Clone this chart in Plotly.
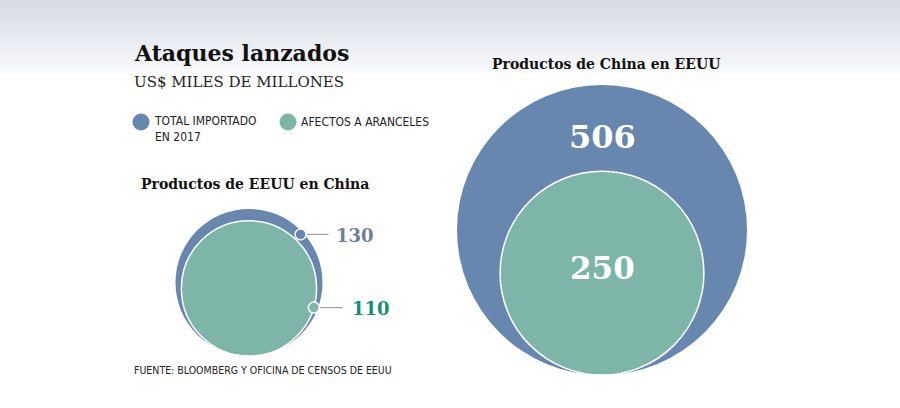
import numpy as np
import plotly.graph_objects as go

# ---------------- data ----------------
title = "Ataques lanzados"
subtitle = "US$ MILES DE MILLONES"
legend_labels = ["TOTAL IMPORTADO<br>EN 2017", "AFECTOS A ARANCELES"]
groups = ["Productos de EEUU en China", "Productos de China en EEUU"]
total_2017 = [130, 506]
afectos = [110, 250]
source = "FUENTE: BLOOMBERG Y OFICINA DE CENSOS DE EEUU"

# ---------------- style ----------------
BLUE = "#6787ae"
GREEN = "#7db5a8"
NUM_BLUE = "#6f8199"
NUM_GREEN = "#168f76"
SERIF = "DejaVu Serif, Liberation Serif, serif"
NARROW = "Liberation Sans Narrow, DejaVu Sans Condensed, Roboto Condensed, Arial Narrow, Roboto, sans-serif"

W, H = 900, 408
MAX_R = 145.0                       # radius (px) of the largest bubble
vmax = max(total_2017)
sizeref = 2.0 * vmax / (2 * MAX_R) ** 2


def radius(v):
    return MAX_R * np.sqrt(v / vmax)


# layout positions of each group (bubble centre x, common bottom y)
cx = [249, 602]
base = [356, 375]

outer_r = [radius(v) for v in total_2017]
inner_r = [radius(v) for v in afectos]
outer_cy = [b - r for b, r in zip(base, outer_r)]
inner_cy = [b - r for b, r in zip(base, inner_r)]

fig = go.Figure()

# background gradient band at top
n = 36
top_col = np.array([214, 220, 229])
bot_col = np.array([248, 249, 251])
for i in range(n):
    t = i / (n - 1)
    c = (top_col * (1 - t) + bot_col * t).astype(int)
    fig.add_shape(type="rect", xref="x", yref="y", x0=0, x1=W,
                  y0=i * 72 / n, y1=(i + 1) * 72 / n + 0.5,
                  fillcolor=f"rgb({c[0]},{c[1]},{c[2]})", line_width=0, layer="below")

# outer bubbles (total imported)
fig.add_trace(go.Scatter(
    x=cx, y=outer_cy, mode="markers",
    marker=dict(size=total_2017, sizemode="area", sizeref=sizeref, color=BLUE,
                line=dict(width=0), opacity=1),
    hoverinfo="skip", showlegend=False))

# inner bubbles (affected by tariffs)
fig.add_trace(go.Scatter(
    x=cx, y=inner_cy, mode="markers",
    marker=dict(size=afectos, sizemode="area", sizeref=sizeref, color=GREEN,
                line=dict(width=1.5, color="white"), opacity=1),
    hoverinfo="skip", showlegend=False))

# callouts for the small group
ang_o = np.deg2rad(43)
ang_i = np.deg2rad(-16.5)
dot_o = (cx[0] + (outer_r[0] - 3) * np.cos(ang_o), outer_cy[0] - (outer_r[0] - 3) * np.sin(ang_o))
dot_i = (cx[0] + inner_r[0] * np.cos(ang_i), inner_cy[0] - inner_r[0] * np.sin(ang_i))

fig.add_trace(go.Scatter(x=[dot_o[0], dot_o[0] + 28], y=[dot_o[1], dot_o[1]], mode="lines",
                         line=dict(color="#a0a0a0", width=1.2), hoverinfo="skip", showlegend=False))
fig.add_trace(go.Scatter(x=[dot_i[0], dot_i[0] + 29], y=[dot_i[1], dot_i[1]], mode="lines",
                         line=dict(color="#a0a0a0", width=1.2), hoverinfo="skip", showlegend=False))
fig.add_trace(go.Scatter(x=[dot_o[0], dot_i[0]], y=[dot_o[1], dot_i[1]], mode="markers",
                         marker=dict(size=11, color=[BLUE, GREEN], line=dict(width=1.5, color="white")),
                         hoverinfo="skip", showlegend=False))

# legend markers
fig.add_trace(go.Scatter(x=[141, 288], y=[122, 122], mode="markers",
                         marker=dict(size=17, color=[BLUE, GREEN], line=dict(width=0)),
                         hoverinfo="skip", showlegend=False))

ann = []
ann.append(dict(x=132, y=53, text=f"<b>{title}</b>", xanchor="left", yanchor="middle",
                font=dict(family=SERIF, size=22, color="#111111")))
ann.append(dict(x=132, y=82, text=subtitle, xanchor="left", yanchor="middle",
                font=dict(family=SERIF, size=15, color="#222222")))
ann.append(dict(x=152, y=129, text=legend_labels[0], xanchor="left", yanchor="middle", align="left",
                font=dict(family=NARROW, size=12, color="#222222")))
ann.append(dict(x=299, y=122, text=legend_labels[1], xanchor="left", yanchor="middle", align="left",
                font=dict(family=NARROW, size=12, color="#222222")))
ann.append(dict(x=255, y=184, text=f"<b>{groups[0]}</b>", xanchor="center", yanchor="middle",
                font=dict(family=SERIF, size=14, color="#111111")))
ann.append(dict(x=606, y=64, text=f"<b>{groups[1]}</b>", xanchor="center", yanchor="middle",
                font=dict(family=SERIF, size=14, color="#111111")))
ann.append(dict(x=dot_o[0] + 33, y=dot_o[1] + 1, text=f"<b>{total_2017[0]}</b>", xanchor="left",
                yanchor="middle", font=dict(family=SERIF, size=18, color=NUM_BLUE)))
ann.append(dict(x=dot_i[0] + 36, y=dot_i[1] + 1, text=f"<b>{afectos[0]}</b>", xanchor="left",
                yanchor="middle", font=dict(family=SERIF, size=18, color=NUM_GREEN)))
ann.append(dict(x=cx[1], y=outer_cy[1] - outer_r[1] + 52, text=f"<b>{total_2017[1]}</b>",
                xanchor="center", yanchor="middle", font=dict(family=SERIF, size=32, color="white")))
ann.append(dict(x=cx[1], y=inner_cy[1] - 5, text=f"<b>{afectos[1]}</b>",
                xanchor="center", yanchor="middle", font=dict(family=SERIF, size=31, color="white")))
ann.append(dict(x=132, y=370, text=source, xanchor="left", yanchor="middle",
                font=dict(family=NARROW, size=10.5, color="#222222")))
for a in ann:
    a.update(xref="x", yref="y", showarrow=False)

fig.update_layout(
    width=W, height=H, margin=dict(l=0, r=0, t=0, b=0),
    paper_bgcolor="white", plot_bgcolor="white",
    xaxis=dict(range=[0, W], visible=False, fixedrange=True),
    yaxis=dict(range=[H, 0], visible=False, fixedrange=True),
    annotations=ann, showlegend=False,
)

fig.write_html(
    "out.html",
    config={"displayModeBar": False},
    post_script="document.body.style.margin='0';document.body.style.overflow='hidden';",
)
